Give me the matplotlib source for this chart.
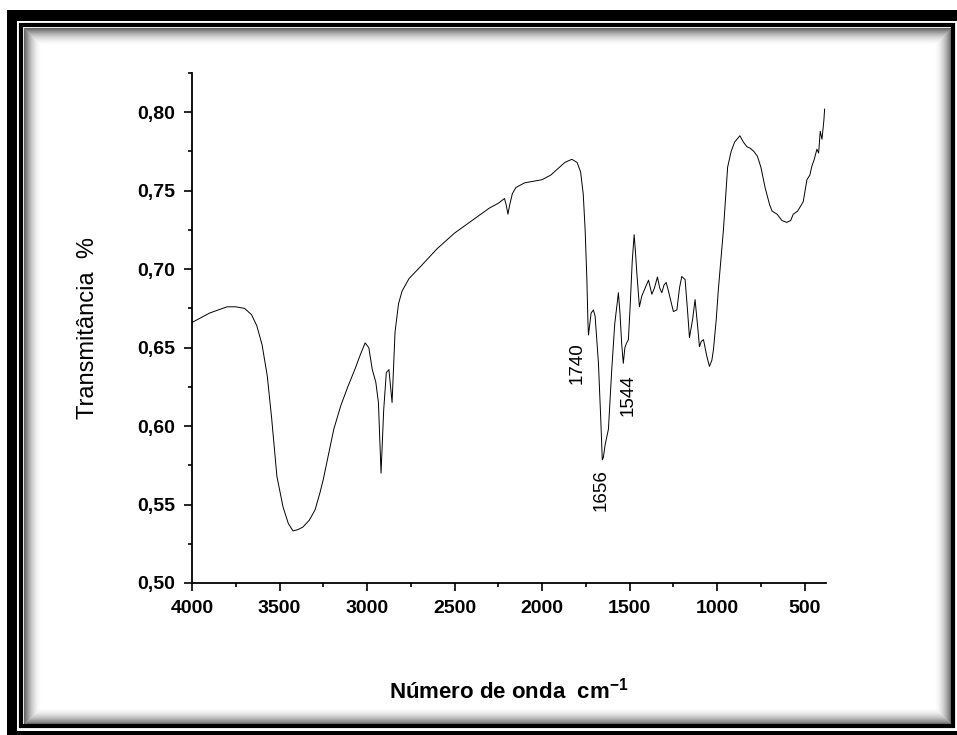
import matplotlib
matplotlib.use('Agg')
import matplotlib.pyplot as plt
import matplotlib.ticker as ticker
from matplotlib.patches import Rectangle

# espectro FTIR (numero de onda, transmitancia)
numero_onda = [4000, 3950, 3900, 3850, 3800, 3750, 3700, 3660, 3630, 3600, 3570, 3545, 3515, 3480,
               3450, 3423, 3395, 3366, 3330, 3297, 3269, 3250, 3220, 3190, 3150, 3110, 3070, 3040,
               3011, 2990, 2970, 2950, 2935, 2920, 2905, 2890, 2875, 2857, 2840, 2820, 2800, 2760,
               2700, 2650, 2600, 2550, 2500, 2450, 2400, 2350, 2300, 2250, 2215, 2205, 2195, 2185,
               2170, 2150, 2100, 2050, 2000, 1950, 1900, 1870, 1830, 1800, 1780, 1765, 1754, 1744,
               1738, 1735, 1720, 1707, 1697, 1678, 1665, 1656, 1650, 1640, 1621, 1602, 1585, 1564,
               1555, 1545, 1536, 1527, 1517, 1507, 1497, 1485, 1474, 1466, 1459, 1444, 1430, 1411,
               1392, 1373, 1358, 1341, 1328, 1316, 1303, 1291, 1278, 1265, 1250, 1230, 1215, 1202,
               1183, 1170, 1158, 1140, 1126, 1110, 1101, 1090, 1078, 1060, 1044, 1030, 1021, 1005,
               993, 964, 940, 920, 900, 870, 850, 830, 810, 790, 770, 750, 726, 700, 686, 657, 630,
               602, 580, 565, 540, 508, 487, 470, 459, 445, 430, 420, 411, 401, 390, 386]
transmitancia = [0.666, 0.669, 0.672, 0.674, 0.676, 0.676, 0.675, 0.671, 0.664, 0.652, 0.632, 0.605,
                 0.568, 0.5485, 0.538, 0.5332, 0.534, 0.5357, 0.540, 0.5466, 0.5575, 0.566, 0.582,
                 0.598, 0.613, 0.625, 0.636, 0.645, 0.653, 0.650, 0.636, 0.628, 0.615, 0.570, 0.610,
                 0.634, 0.636, 0.615, 0.660, 0.678, 0.686, 0.694, 0.701, 0.707, 0.713, 0.718, 0.723,
                 0.727, 0.731, 0.735, 0.739, 0.742, 0.745, 0.741, 0.735, 0.741, 0.748, 0.752, 0.755,
                 0.756, 0.757, 0.760, 0.765, 0.768, 0.770, 0.768, 0.762, 0.748, 0.725, 0.693, 0.666,
                 0.658, 0.672, 0.674, 0.670, 0.640, 0.605, 0.5785, 0.580, 0.588, 0.598, 0.636, 0.665,
                 0.685, 0.672, 0.652, 0.640, 0.650, 0.653, 0.655, 0.676, 0.705, 0.722, 0.710, 0.698,
                 0.676, 0.683, 0.688, 0.693, 0.684, 0.688, 0.695, 0.688, 0.685, 0.690, 0.6915, 0.686,
                 0.680, 0.673, 0.674, 0.688, 0.6953, 0.6934, 0.675, 0.6564, 0.668, 0.6806, 0.662,
                 0.6506, 0.654, 0.6551, 0.645, 0.638, 0.642, 0.6487, 0.668, 0.687, 0.725, 0.765,
                 0.775, 0.781, 0.785, 0.781, 0.778, 0.777, 0.775, 0.772, 0.765, 0.752, 0.741, 0.737,
                 0.735, 0.731, 0.7298, 0.731, 0.735, 0.737, 0.743, 0.757, 0.760, 0.7655, 0.770,
                 0.7764, 0.774, 0.7879, 0.7828, 0.795, 0.802]

# bandas marcadas e posicao do rotulo
bandas = ['1740', '1656', '1544']
rotulo_x = [1800, 1663, 1509]
rotulo_y = [0.6404, 0.5594, 0.620]

plt.rcParams['font.family'] = ['Liberation Sans', 'DejaVu Sans']
plt.rcParams['mathtext.fontset'] = 'custom'
plt.rcParams['mathtext.rm'] = 'Liberation Sans'
plt.rcParams['mathtext.bf'] = 'Liberation Sans:bold'

W, H = 957, 735
fig = plt.figure(figsize=(W / 100, H / 100), dpi=100)

# moldura (em pixels, origem no canto superior esquerdo)
bg = fig.add_axes([0, 0, 1, 1], zorder=-1)
bg.set_xlim(0, W)
bg.set_ylim(H, 0)
bg.axis('off')
bg.add_patch(Rectangle((7, 10), 10, H, color='black', lw=0))
bg.add_patch(Rectangle((7, 10), W, 11, color='black', lw=0))
bg.add_patch(Rectangle((7, 731), W, 10, color='black', lw=0))
bg.add_patch(Rectangle((21, 25), 932, 701, fill=False, ec='black', lw=3))
for i in range(18):
    a = 0.6 * (1 - i / 18) ** 2
    bg.add_patch(Rectangle((23.5 + i, 27.5 + i), 927 - 2 * i, 696 - 2 * i, fill=False,
                           ec=(0, 0, 0, a), lw=0.75))

ax = fig.add_axes([192 / W, 1 - 583 / H, (826 - 192) / W, (583 - 73) / H])
ax.patch.set_alpha(0)
ax.plot(numero_onda, transmitancia, color='black', lw=0.7)

for b, xx, yy in zip(bandas, rotulo_x, rotulo_y):
    ax.text(xx, yy, b, rotation=90, ha='center', va='center', fontsize=13.5)

ax.set_xlim(4000, 378)
ax.set_ylim(0.50, 0.825)
ax.spines['top'].set_visible(False)
ax.spines['right'].set_visible(False)
ax.spines['left'].set_linewidth(1.3)
ax.spines['bottom'].set_linewidth(1.3)
ax.xaxis.set_major_locator(ticker.MultipleLocator(500))
ax.xaxis.set_minor_locator(ticker.MultipleLocator(250))
ax.yaxis.set_major_locator(ticker.MultipleLocator(0.05))
ax.yaxis.set_minor_locator(ticker.MultipleLocator(0.025))
ax.xaxis.set_major_formatter(ticker.FuncFormatter(lambda v, p: '%d' % v))
ax.yaxis.set_major_formatter(ticker.FuncFormatter(lambda v, p: ('%.2f' % v).replace('.', ',')))
ax.tick_params(which='major', direction='out', length=6, width=1.2, pad=6, labelsize=14)
ax.tick_params(which='minor', direction='out', length=3, width=1.2)
for lbl in ax.get_xticklabels() + ax.get_yticklabels():
    lbl.set_fontweight('bold')

ax.set_ylabel('Transmitância  %', fontsize=17)
ax.set_xlabel(r'Número de onda  cm$^{\mathbf{-1}}$', fontsize=16, fontweight='bold')
ax.yaxis.set_label_coords(-0.147, 0.5)
ax.xaxis.set_label_coords(0.5, -0.185)

fig.savefig('out.png', dpi=100)
